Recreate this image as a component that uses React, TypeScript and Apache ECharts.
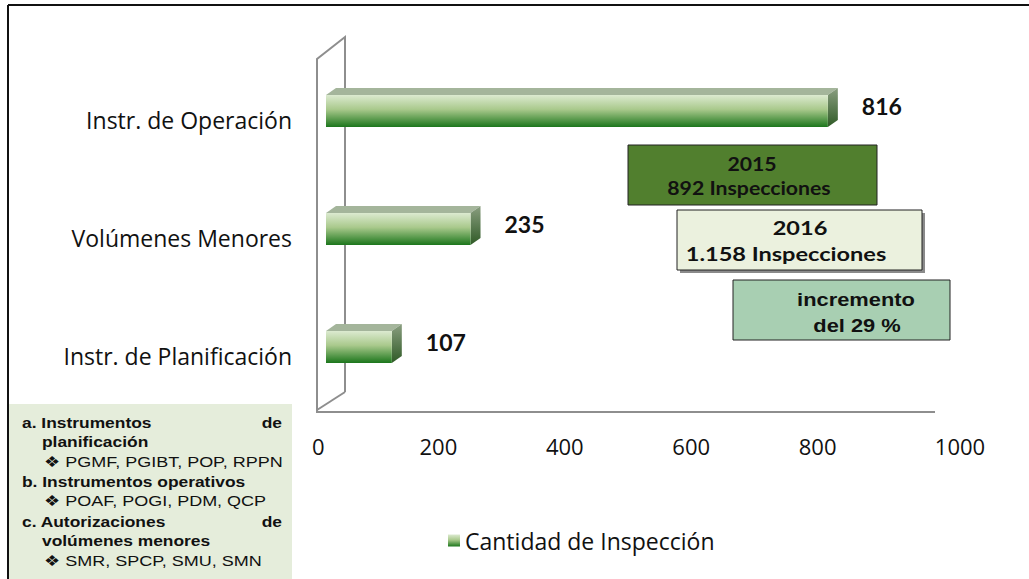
import React, { useEffect, useRef } from "react";
import * as echarts from "echarts";

const categories = ["Instr. de Planificación", "Volúmenes Menores", "Instr. de Operación"];
const values = [107, 235, 816];
const seriesName = "Cantidad de Inspección";
const xTicks = [0, 200, 400, 600, 800, 1000];

const box2015 = ["2015", "892 Inspecciones"];
const box2016 = ["2016", "1.158 Inspecciones"];
const boxIncrease = ["incremento", "del 29 %"];

const noteLines: { text: string; x: number; bold: boolean; right?: string }[] = [
  { text: "a. Instrumentos", x: 22, bold: true, right: "de" },
  { text: "planificación", x: 42, bold: true },
  { text: "❖ PGMF, PGIBT, POP, RPPN", x: 44, bold: false },
  { text: "b. Instrumentos operativos", x: 22, bold: true },
  { text: "❖ POAF, POGI, PDM, QCP", x: 44, bold: false },
  { text: "c. Autorizaciones", x: 22, bold: true, right: "de" },
  { text: "volúmenes menores", x: 42, bold: true },
  { text: "❖ SMR, SPCP, SMU, SMN", x: 44, bold: false },
];

const frontGradient = new echarts.graphic.LinearGradient(0, 0, 0, 1, [
  { offset: 0, color: "#dcead0" },
  { offset: 0.45, color: "#a9c98c" },
  { offset: 1, color: "#1c761c" },
]);
const sideGradient = new echarts.graphic.LinearGradient(0, 0, 0, 1, [
  { offset: 0, color: "#8a9e80" },
  { offset: 1, color: "#2f5a26" },
]);

const LABEL_FONT = '"Open Sans", sans-serif';

export default function App() {
  const ref = useRef<HTMLDivElement>(null);
  useEffect(() => {
    if (!ref.current) return;
    const chart = echarts.init(ref.current, null, { renderer: "svg" });
    const BAR_H = 32;
    const DX = 10;
    const DY = 7;
    const noteGraphics: any[] = [];
    noteLines.forEach((l, i) => {
      const y = 422 + i * 19.8;
      noteGraphics.push({
        type: "text",
        x: l.x,
        y,
        scaleX: l.bold ? 1.16 : 1.2,
        style: {
          text: l.text,
          fill: "#111",
          font: `${l.bold ? "bold " : ""}15px "Liberation Sans", Arial, sans-serif`,
          textVerticalAlign: "middle",
        },
      });
      if (l.right) {
        noteGraphics.push({
          type: "text",
          x: 282,
          y,
          scaleX: 1.16,
          style: {
            text: l.right,
            fill: "#111",
            font: `bold 15px "Liberation Sans", Arial, sans-serif`,
            textAlign: "right",
            textVerticalAlign: "middle",
          },
        });
      }
    });
    const boxText = (lines: string[], cxs: number[], y0: number, gap: number, font: string, sx: number) =>
      lines.map((t, i) => ({
        type: "text",
        x: cxs[i],
        y: y0 + i * gap,
        scaleX: sx,
        style: { text: t, fill: "#111", font, textAlign: "center", textVerticalAlign: "middle" },
        z: 10,
      }));

    const maxTick = xTicks[xTicks.length - 1];

    chart.setOption({
      animation: false,
      backgroundColor: "#ffffff",
      legend: {
        data: [{ name: seriesName, icon: "rect" }],
        left: 443,
        top: 524,
        itemWidth: 12,
        itemHeight: 12,
        itemGap: 5,
        textStyle: { fontFamily: LABEL_FONT, fontSize: 23, color: "#111" },
      },
      grid: [
        { left: 326, right: 88, top: 52, height: 354, containLabel: false },
        { left: 312, right: 85, top: 52, height: 360, containLabel: false },
      ],
      xAxis: [
        { gridIndex: 0, type: "value", min: 0, max: 1000, show: false },
        {
          gridIndex: 1,
          type: "value",
          min: xTicks[0],
          max: maxTick,
          interval: 200,
          axisLine: { show: false },
          axisTick: { show: false },
          splitLine: { show: false },
          axisLabel: {
            margin: 23,
            fontFamily: LABEL_FONT,
            fontSize: 22,
            color: "#111",
            alignMinLabel: "left",
            formatter: (v: number) => (v === maxTick ? `{m|${v}}` : String(v)),
            rich: {
              m: { fontFamily: LABEL_FONT, fontSize: 22, color: "#111", padding: [0, 0, 0, 32] },
            },
          },
        },
      ],
      yAxis: [
        {
          gridIndex: 0,
          type: "category",
          data: categories,
          axisLine: { show: false },
          axisTick: { show: false },
          axisLabel: {
            margin: 34,
            fontFamily: LABEL_FONT,
            fontSize: 23,
            color: "#111",
            verticalAlign: "top",
            lineHeight: 18,
          },
        },
        { gridIndex: 1, type: "category", data: categories, show: false },
      ],
      series: [
        {
          type: "custom",
          name: seriesName,
          xAxisIndex: 0,
          yAxisIndex: 0,
          itemStyle: { color: frontGradient },
          encode: { x: 0, y: 1 },
          data: values.map((v, i) => [v, i]),
          renderItem: (params: any, api: any) => {
            const v = api.value(0);
            const c = api.value(1);
            const s = api.coord([0, c]);
            const e = api.coord([v, c]);
            const top = s[1] - BAR_H / 2;
            const x0 = s[0];
            const x1 = e[0];
            return {
              type: "group",
              children: [
                {
                  type: "polygon",
                  shape: { points: [[x0, top], [x0 + DX, top - DY], [x1 + DX, top - DY], [x1, top]] },
                  style: { fill: "#a4b59b" },
                },
                {
                  type: "polygon",
                  shape: { points: [[x1, top], [x1 + DX, top - DY], [x1 + DX, top + BAR_H - DY], [x1, top + BAR_H]] },
                  style: { fill: sideGradient },
                },
                {
                  type: "rect",
                  shape: { x: x0, y: top, width: x1 - x0, height: BAR_H },
                  style: { fill: frontGradient },
                },
                {
                  type: "text",
                  x: x1 + DX + 24,
                  y: s[1] - 5,
                  style: {
                    text: String(v),
                    fill: "#111",
                    font: "bold 23px Lato, sans-serif",
                    textVerticalAlign: "middle",
                  },
                },
              ],
            };
          },
        },
      ],
      graphic: [
        // outer frame
        { type: "line", shape: { x1: 8, y1: 5, x2: 1029, y2: 5 }, style: { stroke: "#111", lineWidth: 2 } },
        { type: "line", shape: { x1: 8, y1: 5, x2: 8, y2: 579 }, style: { stroke: "#111", lineWidth: 2 } },
        // 3D wall & floor
        {
          type: "polyline",
          shape: { points: [[345, 392], [345, 37], [317, 59], [317, 412], [935, 412]] },
          style: { stroke: "#8e8e8e", lineWidth: 2, fill: "none" },
          z: -1,
        },
        { type: "line", shape: { x1: 317, y1: 410, x2: 345, y2: 392 }, style: { stroke: "#8e8e8e", lineWidth: 2 }, z: -1 },
        // note box
        { type: "rect", shape: { x: 9, y: 404, width: 283, height: 175 }, style: { fill: "#e5eddb" } },
        ...noteGraphics,
        // annotation boxes
        {
          type: "rect",
          shape: { x: 628, y: 145, width: 249, height: 60 },
          style: { fill: "#517f2e", stroke: "#222", lineWidth: 1 },
          z: 9,
        },
        ...boxText(box2015, [752, 749], 164, 24, "bold 18px Lato, sans-serif", 1.18),
        {
          type: "rect",
          shape: { x: 680, y: 213, width: 245, height: 60 },
          style: { fill: "#8a8a8a" },
          z: 8,
        },
        {
          type: "rect",
          shape: { x: 677, y: 210, width: 245, height: 60 },
          style: { fill: "#ebf1de", stroke: "#222", lineWidth: 1 },
          z: 9,
        },
        ...boxText(box2016, [800, 786], 228, 26, "bold 19px Lato, sans-serif", 1.24),
        {
          type: "rect",
          shape: { x: 733, y: 280, width: 217, height: 60 },
          style: { fill: "#a8cfb2", stroke: "#222", lineWidth: 1 },
          z: 9,
        },
        ...boxText(boxIncrease, [856, 857], 299, 26, 'bold 19px "Liberation Sans", Arial, sans-serif', 1.15),
      ],
    });
    return () => chart.dispose();
  }, []);
  return (
    <div
      ref={ref}
      style={{ position: "fixed", left: 0, top: 0, width: 1029, height: 579 }}
    />
  );
}
